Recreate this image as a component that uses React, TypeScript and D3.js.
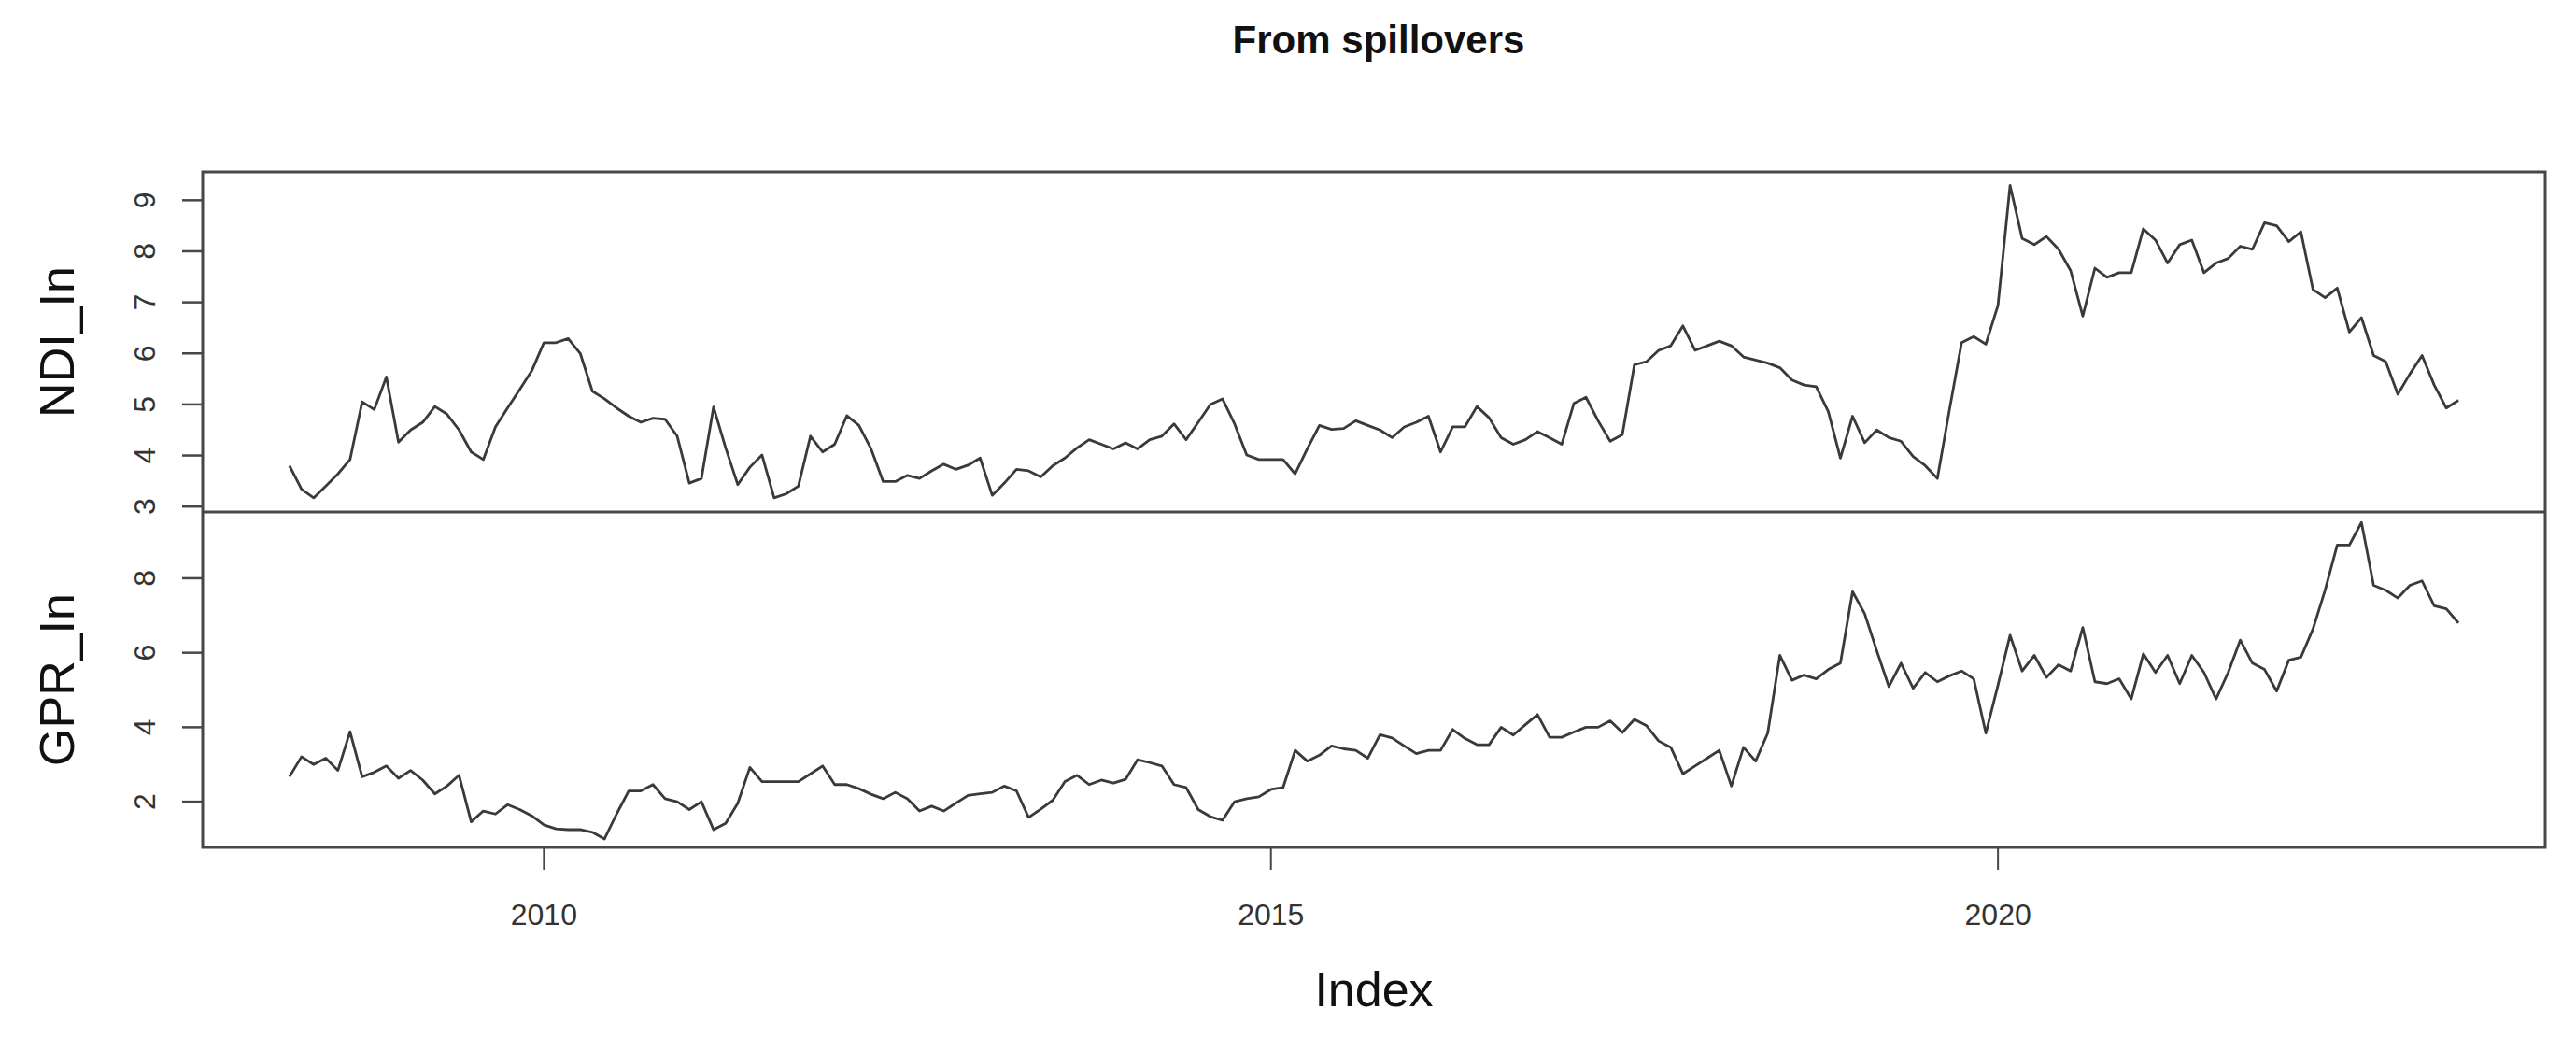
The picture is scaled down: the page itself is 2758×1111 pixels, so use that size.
import React from "react";
import * as d3 from "d3";

// Monthly observations, April 2008 .. March 2023
const START_YEAR = 2008;
const START_MONTH = 4; // April

const NDI_In: number[] = [
  3.8, 3.34, 3.17, 3.4, 3.64, 3.92, 5.05, 4.9, 5.54, 4.26,
  4.5, 4.65, 4.96, 4.81, 4.5, 4.07, 3.92, 4.56, 4.93, 5.29,
  5.66, 6.21, 6.21, 6.29, 6.0, 5.26, 5.11, 4.93, 4.77, 4.65,
  4.73, 4.71, 4.38, 3.46, 3.55, 4.95, 4.15, 3.43, 3.77, 4.01,
  3.17, 3.25, 3.4, 4.38, 4.07, 4.22, 4.78, 4.59, 4.13, 3.49,
  3.49, 3.61, 3.55, 3.7, 3.83, 3.73, 3.81, 3.95, 3.22, 3.46,
  3.73, 3.7, 3.58, 3.8, 3.95, 4.15, 4.31, 4.22, 4.13, 4.25,
  4.13, 4.31, 4.38, 4.62, 4.31, 4.65, 5.0, 5.11, 4.62, 4.01,
  3.92, 3.92, 3.92, 3.64, 4.13, 4.59, 4.51, 4.53, 4.68, 4.59,
  4.5, 4.35, 4.56, 4.65, 4.77, 4.07, 4.56, 4.56, 4.96, 4.74,
  4.35, 4.22, 4.31, 4.47, 4.35, 4.22, 5.02, 5.14, 4.68, 4.28,
  4.41, 5.78, 5.84, 6.06, 6.15, 6.54, 6.06, 6.15, 6.24, 6.15,
  5.93, 5.87, 5.81, 5.72, 5.48, 5.38, 5.35, 4.86, 3.95, 4.77,
  4.25, 4.5, 4.35, 4.28, 3.98, 3.8, 3.55, 4.9, 6.21, 6.33,
  6.18, 6.94, 9.29, 8.25, 8.13, 8.29, 8.04, 7.62, 6.73, 7.67,
  7.49, 7.58, 7.58, 8.44, 8.22, 7.77, 8.13, 8.22, 7.58, 7.77,
  7.86, 8.1, 8.04, 8.56, 8.5, 8.19, 8.38, 7.25, 7.09, 7.28,
  6.42, 6.7, 5.96, 5.84, 5.2, 5.6, 5.96, 5.38, 4.93, 5.08,
];

const GPR_In: number[] = [
  2.67, 3.21, 3.0, 3.17, 2.84, 3.88, 2.67, 2.79, 2.96, 2.63,
  2.84, 2.58, 2.21, 2.42, 2.71, 1.46, 1.75, 1.67, 1.92, 1.79,
  1.62, 1.38, 1.27, 1.25, 1.25, 1.18, 1.0, 1.67, 2.29, 2.29,
  2.46, 2.08, 2.0, 1.79, 2.0, 1.25, 1.42, 1.96, 2.92, 2.54,
  2.54, 2.54, 2.54, 2.75, 2.96, 2.46, 2.46, 2.35, 2.2, 2.08,
  2.25, 2.08, 1.75, 1.88, 1.75, 1.96, 2.17, 2.21, 2.25, 2.42,
  2.29, 1.58, 1.8, 2.04, 2.54, 2.71, 2.46, 2.58, 2.5, 2.6,
  3.13, 3.05, 2.96, 2.46, 2.38, 1.79, 1.6, 1.5, 2.0, 2.08,
  2.13, 2.33, 2.38, 3.38, 3.09, 3.25, 3.5, 3.42, 3.38, 3.17,
  3.8, 3.71, 3.5, 3.29, 3.38, 3.38, 3.94, 3.7, 3.53, 3.53,
  4.0, 3.79, 4.07, 4.34, 3.73, 3.73, 3.87, 4.0, 4.0, 4.17,
  3.86, 4.21, 4.04, 3.63, 3.46, 2.75, 2.96, 3.17, 3.38, 2.42,
  3.46, 3.09, 3.84, 5.93, 5.26, 5.4, 5.3, 5.55, 5.72, 7.64,
  7.05, 6.05, 5.09, 5.72, 5.05, 5.47, 5.22, 5.38, 5.51, 5.3,
  3.84, 5.13, 6.47, 5.51, 5.93, 5.34, 5.68, 5.51, 6.68, 5.22,
  5.17, 5.3, 4.76, 5.97, 5.47, 5.93, 5.17, 5.93, 5.47, 4.76,
  5.47, 6.34, 5.72, 5.55, 4.97, 5.8, 5.88, 6.64, 7.68, 8.89,
  8.89, 9.5, 7.81, 7.68, 7.47, 7.81, 7.93, 7.26, 7.18, 6.8,
];

const xTicks = [2010, 2015, 2020];
const ndiTicks = [3, 4, 5, 6, 7, 8, 9];
const gprTicks = [2, 4, 6, 8];
const title = "From spillovers";
const xTitle = "Index";
const panelNames = ["NDI_In", "GPR_In"];

const W = 2758;
const H = 1111;
const L = 217;
const R = 2725;
const TOP = 184;
const MID = 548;
const BOT = 907;
const FONT = "'Liberation Sans', Arial, Helvetica, sans-serif";
const LINE = "#3a3a3a";
const FRAME = "#474747";

function times(n: number): number[] {
  return d3.range(n).map((i) => START_YEAR + (START_MONTH - 1 + i) / 12);
}

function padded(lo: number, hi: number): [number, number] {
  const p = (hi - lo) * 0.04;
  return [lo - p, hi + p];
}

export default function App() {
  const t = times(NDI_In.length);
  const x = d3
    .scaleLinear()
    .domain(padded(d3.min(t)!, d3.max(t)!))
    .range([L, R]);

  const yTop = d3.scaleLinear().domain([2.894, 9.555]).range([MID, TOP]);
  const yBot = d3.scaleLinear().domain([0.773, 9.78]).range([BOT, MID]);

  const lineTop = d3
    .line<number>()
    .x((_, i) => x(t[i]))
    .y((d) => yTop(d));
  const lineBot = d3
    .line<number>()
    .x((_, i) => x(t[i]))
    .y((d) => yBot(d));

  const panels = [
    { name: panelNames[0], y: yTop, ticks: ndiTicks, path: lineTop(NDI_In), top: TOP, bot: MID },
    { name: panelNames[1], y: yBot, ticks: gprTicks, path: lineBot(GPR_In), top: MID, bot: BOT },
  ];

  return (
    <svg
      width={W}
      height={H}
      viewBox={`0 0 ${W} ${H}`}
      style={{ position: "absolute", left: 0, top: 0, background: "#fff" }}
      fontFamily={FONT}
    >
      <rect x={0} y={0} width={W} height={H} fill="#fff" />
      <text x={1476} y={57} textAnchor="middle" fontSize={42} fontWeight="bold" fill="#111">
        {title}
      </text>

      {panels.map((p, k) => (
        <g key={k}>
          <path d={p.path || ""} fill="none" stroke={LINE} strokeWidth={2.8} strokeLinejoin="round" />
          {p.ticks.map((v) => (
            <g key={v}>
              <line x1={L - 22} x2={L} y1={p.y(v)} y2={p.y(v)} stroke={FRAME} strokeWidth={2.5} />
              <text
                transform={`translate(166,${p.y(v)}) rotate(-90)`}
                textAnchor="middle"
                fontSize={32}
                fill="#333"
              >
                {v}
              </text>
            </g>
          ))}
          <text
            transform={`translate(79,${(p.top + p.bot) / 2}) rotate(-90)`}
            textAnchor="middle"
            fontSize={52}
            fill="#111"
          >
            {p.name}
          </text>
        </g>
      ))}

      <rect x={L} y={TOP} width={R - L} height={BOT - TOP} fill="none" stroke={FRAME} strokeWidth={3} />
      <line x1={L} x2={R} y1={MID} y2={MID} stroke={FRAME} strokeWidth={3} />

      {xTicks.map((v) => (
        <g key={v}>
          <line x1={x(v)} x2={x(v)} y1={BOT} y2={BOT + 24} stroke={FRAME} strokeWidth={2} />
          <text x={x(v)} y={990} textAnchor="middle" fontSize={32} fill="#333">
            {v}
          </text>
        </g>
      ))}

      <text x={1471} y={1077} textAnchor="middle" fontSize={52} fill="#111">
        {xTitle}
      </text>
    </svg>
  );
}
